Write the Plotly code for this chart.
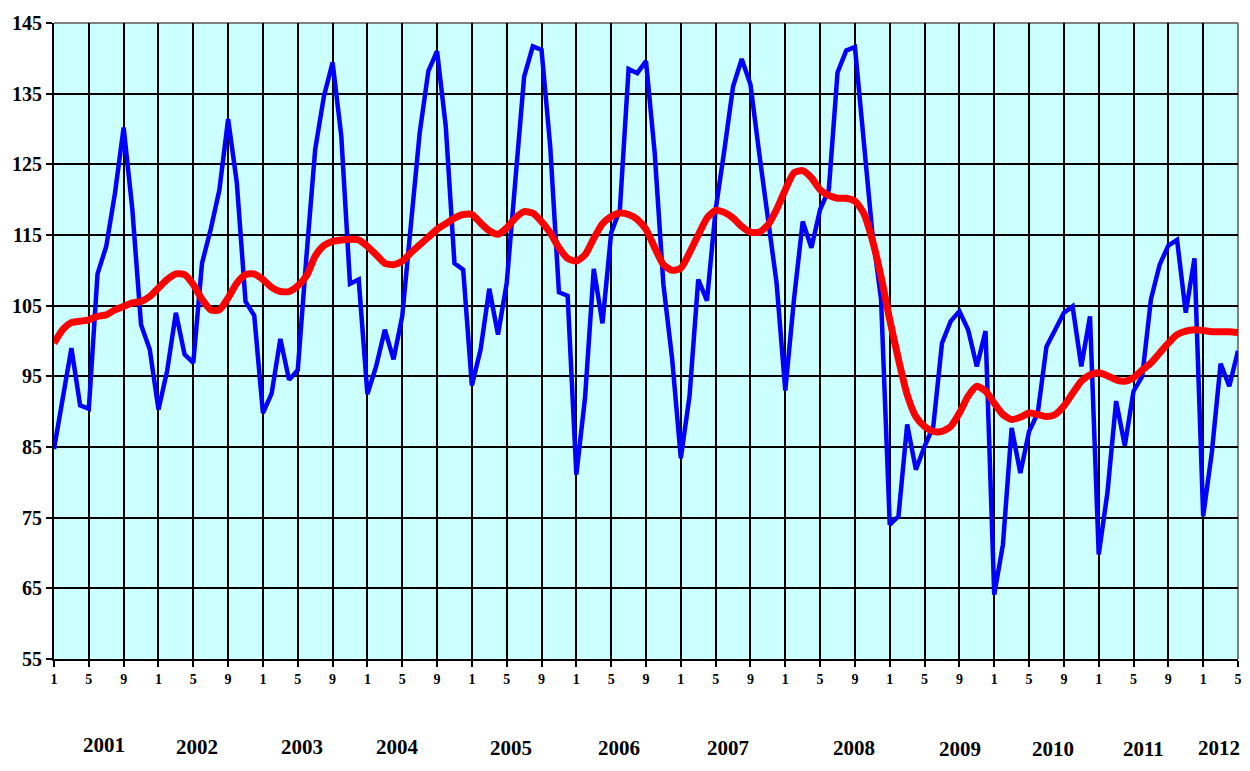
import plotly.graph_objects as go

start_year = 2001
n_months = 137  # Jan 2001 .. May 2012

actual = [
    84.7, 92.0, 99.0, 90.9, 90.4, 109.5, 113.4, 120.9, 130.2, 118.6, 102.3, 98.8,
    90.3, 95.8, 104.0, 98.1, 96.9, 111.0, 115.8, 121.4, 131.4, 122.4, 105.6, 103.6,
    89.8, 92.6, 100.3, 94.5, 95.9, 112.0, 127.1, 134.6, 139.4, 129.0, 108.1, 108.7,
    92.5, 96.4, 101.6, 97.4, 103.5, 116.5, 129.4, 138.2, 141.0, 130.4, 111.0, 110.1,
    93.7, 98.8, 107.4, 100.9, 108.2, 122.8, 137.4, 141.7, 141.2, 127.5, 106.9, 106.4,
    81.1, 92.0, 110.2, 102.5, 115.3, 118.6, 138.5, 137.9, 139.6, 126.6, 108.0, 97.5,
    83.4, 92.2, 108.7, 105.7, 118.6, 127.0, 136.0, 139.9, 136.3, 126.6, 117.6, 108.2,
    93.0, 105.9, 116.9, 113.2, 118.6, 121.4, 138.0, 141.1, 141.6, 128.0, 115.3, 105.9,
    74.0, 75.2, 88.2, 81.8, 85.1, 87.9, 99.7, 102.8, 104.2, 101.6, 96.4, 101.4,
    64.1, 71.2, 87.7, 81.3, 87.2, 89.8, 99.2, 101.6, 104.0, 104.9, 96.4, 103.5,
    69.8, 78.5, 91.5, 85.2, 92.9, 95.0, 105.9, 110.8, 113.5, 114.3, 104.0, 111.7,
    75.2, 84.3, 96.8, 93.6, 98.6,
]

trend = [
    99.7, 101.6, 102.6, 102.8, 103.0, 103.5, 103.7, 104.4, 104.9, 105.4, 105.6, 106.3,
    107.5, 108.7, 109.5, 109.4, 108.0, 105.9, 104.4, 104.4, 106.1, 108.2, 109.4, 109.5,
    108.7, 107.6, 107.0, 107.0, 107.8, 109.2, 112.0, 113.5, 114.1, 114.3, 114.4, 114.3,
    113.4, 112.2, 111.0, 110.8, 111.3, 112.5, 113.6, 114.7, 115.8, 116.6, 117.4, 117.9,
    117.9, 116.7, 115.6, 115.1, 116.0, 117.4, 118.3, 118.1, 116.9, 115.3, 113.2, 111.7,
    111.3, 112.2, 114.5, 116.6, 117.6, 118.1, 117.9, 117.2, 115.8, 113.2, 110.8, 110.0,
    110.3, 112.5, 115.0, 117.4, 118.5, 118.2, 117.4, 116.2, 115.4, 115.4, 116.4, 118.6,
    121.4, 123.8, 124.1, 123.1, 121.4, 120.6, 120.2, 120.2, 119.8, 118.1, 114.3, 109.1,
    103.0, 97.4, 92.4, 89.3, 87.9, 87.2, 87.2, 87.9, 89.8, 92.2, 93.6, 92.9,
    91.2, 89.6, 88.9, 89.2, 89.8, 89.6, 89.3, 89.6, 90.8, 92.6, 94.3, 95.2,
    95.5, 95.1, 94.5, 94.3, 94.8, 95.9, 96.9, 98.3, 99.7, 100.9, 101.4, 101.6,
    101.5, 101.3, 101.3, 101.3, 101.2,
]

year_labels = ["2001", "2002", "2003", "2004", "2005", "2006",
               "2007", "2008", "2009", "2010", "2011", "2012"]
year_label_x = [5.7, 16.4, 28.5, 39.5, 52.5, 64.9, 77.4, 91.9, 104.1, 114.8, 125.2, 133.8]
year_label_y = [-0.1352, -0.1384, -0.1384, -0.1384, -0.1399, -0.1399,
                -0.1399, -0.1399, -0.1415, -0.1415, -0.1415, -0.1399]

y_ticks = [55, 65, 75, 85, 95, 105, 115, 125, 135, 145]

x = list(range(n_months))
month_of = [(i % 12) + 1 for i in x]
tickvals = [i for i in x if i % 4 == 0]
ticktext = ["<b>%d</b>" % month_of[i] for i in tickvals]

SERIF = "Liberation Serif"

fig = go.Figure()
fig.add_trace(go.Scatter(x=x, y=actual, mode="lines",
                         line=dict(color="#0000FF", width=4.5),
                         showlegend=False, hoverinfo="skip"))
fig.add_trace(go.Scatter(x=x, y=trend, mode="lines",
                         line=dict(color="#FF0000", width=7, shape="spline", smoothing=0.6),
                         showlegend=False, hoverinfo="skip"))

for lbl, xv, yv in zip(year_labels, year_label_x, year_label_y):
    fig.add_annotation(text="<b>%s</b>" % lbl, x=xv, y=yv, xref="x", yref="paper",
                       showarrow=False,
                       font=dict(family=SERIF, size=21, color="black"),
                       xanchor="center", yanchor="middle")

# gray top/right border of the plot area
fig.add_shape(type="line", xref="paper", yref="paper", x0=0, x1=1, y0=1, y1=1,
              line=dict(color="#808080", width=2), layer="below")
fig.add_shape(type="line", xref="paper", yref="paper", x0=1, x1=1, y0=0, y1=1,
              line=dict(color="#808080", width=2), layer="below")

# page body has an 8px margin; figure sized so the page does not overflow the window
fig.update_layout(
    width=1234, height=755,
    margin=dict(l=46, r=4, t=15, b=104, autoexpand=False),
    paper_bgcolor="white",
    plot_bgcolor="#CCFFFF",
    font=dict(family=SERIF, color="black"),
)
fig.update_xaxes(
    range=[0, n_months - 1],
    tickmode="array", tickvals=tickvals, ticktext=ticktext,
    showgrid=True, gridcolor="black", gridwidth=2,
    showline=True, linecolor="black", linewidth=2,
    ticks="outside", ticklen=6, tickwidth=2, tickcolor="black",
    tickfont=dict(family=SERIF, size=14, color="black"),
    zeroline=False, automargin=False,
)
fig.update_yaxes(
    range=[55, 145],
    tickmode="array", tickvals=y_ticks, ticktext=["<b>%d</b>" % v for v in y_ticks],
    showgrid=True, gridcolor="black", gridwidth=2,
    showline=True, linecolor="black", linewidth=2,
    ticks="outside", ticklen=6, tickwidth=2, tickcolor="black",
    tickfont=dict(family=SERIF, size=20, color="black"),
    zeroline=False, automargin=False,
)

fig.write_html("out.html")
